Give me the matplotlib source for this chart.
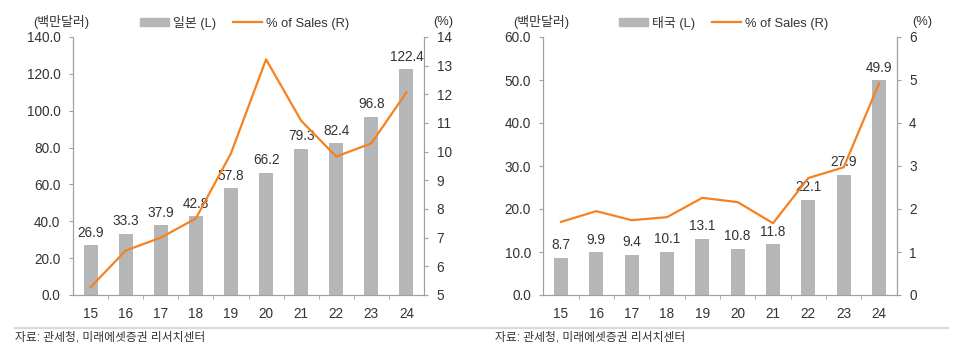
import matplotlib
matplotlib.use("Agg")
import matplotlib.pyplot as plt
from matplotlib.patches import Patch
from matplotlib.lines import Line2D
from matplotlib.ticker import MultipleLocator, FixedLocator, FormatStrFormatter

plt.rcParams['font.family'] = ['Liberation Sans', 'Noto Sans CJK KR', 'DejaVu Sans']

years = ['15', '16', '17', '18', '19', '20', '21', '22', '23', '24']
japan_sales = [26.9, 33.3, 37.9, 42.8, 57.8, 66.2, 79.3, 82.4, 96.8, 122.4]
japan_pct = [5.27, 6.55, 7.0, 7.67, 9.94, 13.22, 11.08, 9.83, 10.29, 12.07]
thai_sales = [8.7, 9.9, 9.4, 10.1, 13.1, 10.8, 11.8, 22.1, 27.9, 49.9]
thai_pct = [1.70, 1.95, 1.74, 1.81, 2.26, 2.16, 1.67, 2.72, 2.97, 4.92]

BAR = '#b5b6b7'
ORANGE = '#f5821f'
AXC = '#a0a0a0'
TXT = '#333333'
FS = 9.8

fig = plt.figure(figsize=(9.6, 3.52), dpi=100)
W, H = 960, 352

def panel(x0px, x1px, sales, pct, country, ylim, ystep, y2lim, legend_cx, unit_cx, pct_cx):
    ax = fig.add_axes([x0px / W, 1 - 295 / H, (x1px - x0px) / W, (295 - 37) / H])
    ax2 = ax.twinx()
    x = list(range(len(years)))
    ax.bar(x, sales, width=0.4, color=BAR, zorder=2)
    for xi, v in zip(x, sales):
        ax.annotate(f'{v:.1f}', (xi, v), xytext=(0, 4), textcoords='offset points',
                    ha='center', va='bottom', fontsize=FS, color=TXT, zorder=3)
    ax2.plot(x, pct, color=ORANGE, lw=1.6, zorder=4)
    ax.set_xlim(-0.5, len(years) - 0.5)
    ax.set_ylim(*ylim)
    ax2.set_ylim(*y2lim)
    ax.yaxis.set_major_locator(MultipleLocator(ystep))
    ax2.yaxis.set_major_locator(MultipleLocator(1))
    ax.yaxis.set_major_formatter(FormatStrFormatter('%.1f'))
    ax2.yaxis.set_major_formatter(FormatStrFormatter('%d'))
    ax.set_xticks(x)
    ax.set_xticklabels(years)
    ax.xaxis.set_minor_locator(FixedLocator([i + 0.5 for i in range(len(years) - 1)]))
    for a in (ax, ax2):
        for s in a.spines.values():
            s.set_color(AXC)
        a.spines['top'].set_visible(False)
    ax.tick_params(axis='x', which='major', length=0, pad=9, labelsize=FS, colors=TXT)
    ax.tick_params(axis='x', which='minor', length=3, color=AXC, direction='out')
    ax.tick_params(axis='y', length=3, color=AXC, pad=6, labelsize=FS, labelcolor=TXT)
    ax2.tick_params(axis='y', length=3, color=AXC, pad=6, labelsize=FS, labelcolor=TXT)
    handles = [Patch(color=BAR, label=f'{country} (L)'),
               Line2D([0], [0], color=ORANGE, lw=1.6, label='% of Sales (R)')]
    fig.legend(handles=handles, loc='center', bbox_to_anchor=(legend_cx / W, 1 - 22.5 / H),
               ncol=2, frameon=False, fontsize=9.3, handlelength=2.2, handleheight=0.55,
               handletextpad=0.35, columnspacing=1.3, labelcolor=TXT)
    fig.text(unit_cx / W, 1 - 22 / H, '(백만달러)', ha='center', va='center', fontsize=9.3, color=TXT)
    fig.text(pct_cx / W, 1 - 22 / H, '(%)', ha='center', va='center', fontsize=9.3, color=TXT)

panel(73, 424, japan_sales, japan_pct, '일본', (0, 140), 20, (5, 14), 245, 61, 443)
panel(543.3, 896.7, thai_sales, thai_pct, '태국', (0, 60), 10, (0, 6), 724, 541, 922)

fig.add_artist(Line2D([15 / W, 948 / W], [1 - 327.5 / H] * 2, color='#d9d9d9', lw=1.6))
fig.text(15 / W, 1 - 337 / H, '자료: 관세청, 미래에셋증권 리서치센터', ha='left', va='center', fontsize=8.5, color=TXT)
fig.text(495 / W, 1 - 337 / H, '자료: 관세청, 미래에셋증권 리서치센터', ha='left', va='center', fontsize=8.5, color=TXT)

fig.savefig('out.png', dpi=100)
